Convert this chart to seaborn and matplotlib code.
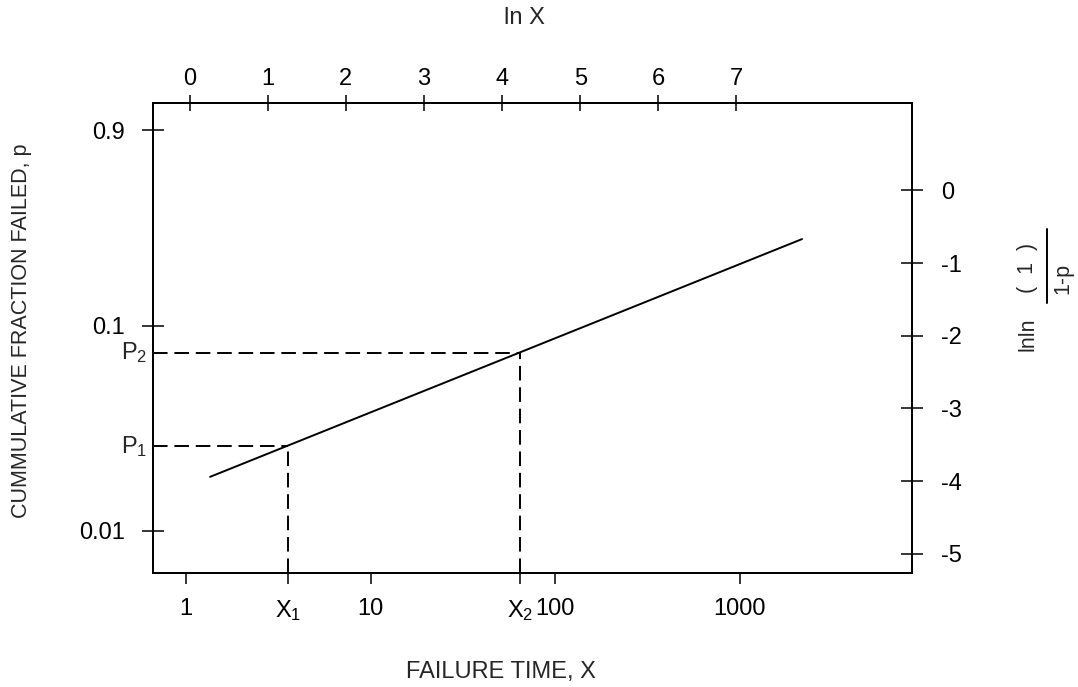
import matplotlib
matplotlib.use('Agg')
import seaborn as sns
import matplotlib.pyplot as plt
from matplotlib import font_manager
from matplotlib.lines import Line2D
from matplotlib.ticker import NullLocator

# values (Weibull probability paper sketch)
x_ticks = [1, 10, 100, 1000]
x_tick_labels = ['1', '10', '100', '1000']
lnx_ticks = [0, 1, 2, 3, 4, 5, 6, 7]
p_ticks = [0.9, 0.1, 0.01]
p_tick_labels = ['0.9', '0.1', '0.01']
lnln_ticks = [0, -1, -2, -3, -4, -5]

fit_x = [1.35, 2170]         # failure time at the two ends of the fitted line
fit_lnln = [-3.94, -0.67]    # lnln(1/(1-p)) at the same ends
x_marks = [3.56, 64.4]       # X1, X2
p_marks = [-3.52, -2.23]     # P1, P2 (lnln scale)
x_mark_labels = [r'$\mathregular{X_1}$', r'$\mathregular{X_2}$']
p_mark_labels = [r'$\mathregular{P_1}$', r'$\mathregular{P_2}$']

sns.set_style('white')
plt.rcParams['font.family'] = ['Liberation Sans', 'DejaVu Sans']
plt.rcParams['mathtext.fontset'] = 'custom'
plt.rcParams['mathtext.rm'] = 'Liberation Sans'
plt.rcParams['mathtext.it'] = 'Liberation Sans'
plt.rcParams['font.size'] = 17

# the sideways titles in the reference are set in a condensed face
try:
    font_manager.findfont('Liberation Sans Narrow', fallback_to_default=False)
    side_font = ['Liberation Sans Narrow', 'DejaVu Sans']
    side_size = 18
except ValueError:
    side_font = ['Liberation Sans', 'DejaVu Sans']
    side_size = 15.5

fig = plt.figure(figsize=(10.78, 6.87), dpi=100)
ax = fig.add_axes([0.1419, 0.1659, 0.7041, 0.6842])
ax_left = ax.twinx()
ax_top = ax.twiny()

# main axes: log failure time vs lnln(1/(1-p))
ax.set_xscale('log')
ax.set_xlim(0.662, 8551)
ax.set_ylim(-5.263, 1.202)

sns.lineplot(x=fit_x, y=fit_lnln, ax=ax, color='black', linewidth=1.4)
for xm, pm in zip(x_marks, p_marks):
    ax.plot([ax.get_xlim()[0], xm], [pm, pm], color='black', linewidth=1.4,
            linestyle=(0, (7.5, 3.5)))
    ax.plot([xm, xm], [ax.get_ylim()[0], pm], color='black', linewidth=1.4,
            linestyle=(0, (7.5, 3.5)))

ax.xaxis.set_minor_locator(NullLocator())
ax.set_xticks(x_ticks + x_marks)
ax.set_xticklabels(x_tick_labels + x_mark_labels)
ax.xaxis.tick_bottom()
ax.tick_params(axis='x', direction='out', length=8, width=1.1, pad=10)

ax.yaxis.tick_right()
ax.set_yticks(lnln_ticks)
ax.set_yticklabels([str(v) for v in lnln_ticks])
ax.tick_params(axis='y', direction='inout', length=15.8, width=1.1, pad=13,
               left=False, right=True, labelleft=False, labelright=True)

for pm, lab in zip(p_marks, p_mark_labels):
    ax.text(-0.008, pm, lab, transform=ax.get_yaxis_transform(),
            ha='right', va='center')

# left axis: cumulative fraction failed
ax_left.set_yscale('log')
ax_left.set_ylim(0.00621, 1.225)
ax_left.yaxis.set_minor_locator(NullLocator())
ax_left.set_yticks(p_ticks)
ax_left.set_yticklabels(p_tick_labels)
ax_left.yaxis.tick_left()
ax_left.tick_params(axis='y', direction='inout', length=15.8, width=1.1, pad=12,
                    left=True, right=False, labelleft=True, labelright=False)

# top axis: ln X
ax_top.set_xlim(-0.470, 9.247)
ax_top.set_xticks(lnx_ticks)
ax_top.set_xticklabels([str(v) for v in lnx_ticks])
ax_top.xaxis.tick_top()
ax_top.tick_params(axis='x', direction='inout', length=11.5, width=1.1, pad=3.5)

for a in (ax, ax_left, ax_top):
    for s in a.spines.values():
        s.set_color('black')
        s.set_linewidth(1.4)
    a.tick_params(colors='black')

# axis titles
fig.text(501 / 1078, 1 - 672 / 687, 'FAILURE TIME, X', ha='center', va='center')
fig.text(524 / 1078, 1 - 18 / 687, 'ln X', ha='center', va='center')
fig.text(22 / 1078, 1 - 331 / 687, 'CUMMULATIVE FRACTION FAILED, p',
         rotation=90, ha='center', va='center', family=side_font, fontsize=side_size)

# right title: lnln ( 1 / 1-p ) written sideways
fig.text(1028 / 1078, 1 - 334 / 687, 'lnln', rotation=90, ha='center', va='center',
         family=side_font, fontsize=side_size)
fig.text(1028 / 1078, 1 - 268 / 687, '(  1  )', rotation=90, ha='center', va='center',
         family=side_font, fontsize=side_size)
fig.text(1063 / 1078, 1 - 278 / 687, '1-p', rotation=90, ha='center', va='center',
         family=side_font, fontsize=side_size)
fig.add_artist(Line2D([1047 / 1078, 1047 / 1078], [1 - 229 / 687, 1 - 303 / 687],
                      color='black', linewidth=1.4, transform=fig.transFigure))

fig.savefig('out.png', dpi=100)
